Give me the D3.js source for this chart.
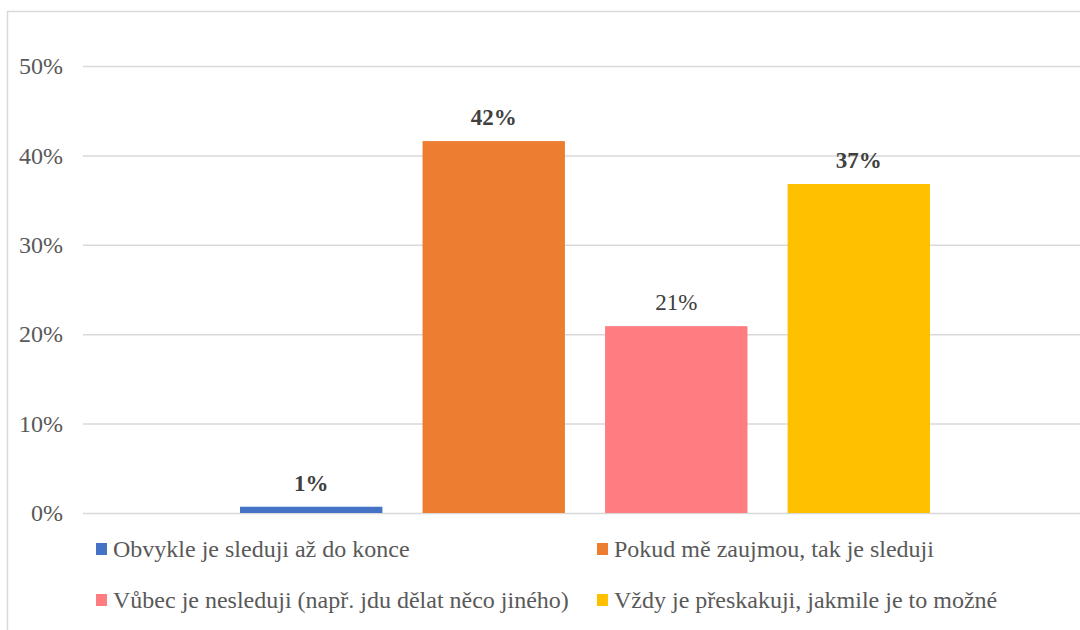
<!DOCTYPE html>
<html>
<head>
<meta charset="utf-8">
<script src="https://cdn.jsdelivr.net/npm/d3@7"></script>
<style>
  body { margin: 0; background: #fff; }
  svg { display: block; }
</style>
</head>
<body>
<svg id="chart"></svg>
<script>
const seriesNames = [
    "Obvykle je sleduji až do konce",
    "Pokud mě zaujmou, tak je sleduji",
    "Vůbec je nesleduji (např. jdu dělat něco jiného)",
    "Vždy je přeskakuji, jakmile je to možné"
];
const seriesValues = [0.7, 41.6, 20.9, 36.8];
const valueLabels = ["1%", "42%", "21%", "37%"];
const labelBold = [true, true, false, true];
const seriesColors = ["#4472C4", "#ED7D31", "#FF7C80", "#FFC000"];
const yTicks = [0, 10, 20, 30, 40, 50];

const width = 1080;
const height = 630;
const margin = { top: 66, right: -7, bottom: 117, left: 83 };
const font = "'Liberation Serif', 'Times New Roman', serif";

const svg = d3.select("#chart")
    .attr("width", width)
    .attr("height", height);

// chart area border
svg.append("rect")
    .attr("x", 7.5)
    .attr("y", 11.5)
    .attr("width", width + 20)
    .attr("height", height + 20)
    .attr("fill", "none")
    .attr("stroke", "#d9d9d9")
    .attr("stroke-width", 1.5);

const y = d3.scaleLinear()
    .domain([0, 50])
    .range([height - margin.bottom, margin.top]);

// one category, four series side by side
const x = d3.scaleBand()
    .domain(seriesNames)
    .range([240, 930])
    .paddingInner(0.22)
    .paddingOuter(0);

const yAxis = svg.append("g")
    .attr("transform", `translate(${margin.left}, 0)`)
    .call(d3.axisLeft(y)
        .tickValues(yTicks)
        .tickSize(-(width - margin.left - margin.right))
        .tickFormat(d => d + "%")
        .tickPadding(20));

yAxis.select(".domain").remove();
yAxis.selectAll("line")
    .attr("stroke", "#d9d9d9")
    .attr("stroke-width", 1.5);
yAxis.selectAll("text")
    .attr("font-family", font)
    .attr("font-size", "24px")
    .attr("fill", "#595959");

svg.append("g")
    .selectAll("rect")
    .data(seriesNames)
    .join("rect")
    .attr("x", d => x(d))
    .attr("y", (d, i) => y(seriesValues[i]))
    .attr("width", x.bandwidth())
    .attr("height", (d, i) => y(0) - y(seriesValues[i]))
    .attr("fill", (d, i) => seriesColors[i]);

svg.append("g")
    .selectAll("text")
    .data(seriesNames)
    .join("text")
    .attr("x", d => x(d) + x.bandwidth() / 2)
    .attr("y", (d, i) => y(seriesValues[i]) - 16)
    .attr("text-anchor", "middle")
    .attr("font-family", font)
    .attr("font-size", "23px")
    .attr("font-weight", (d, i) => labelBold[i] ? "bold" : "normal")
    .attr("fill", "#404040")
    .text((d, i) => valueLabels[i]);

// legend, two columns
const legendCols = [96, 597];
const legendRows = [549, 600];

const legend = svg.append("g")
    .selectAll("g")
    .data(seriesNames)
    .join("g")
    .attr("transform", (d, i) => `translate(${legendCols[i % 2]}, ${legendRows[Math.floor(i / 2)]})`);

legend.append("rect")
    .attr("x", 0)
    .attr("y", -6)
    .attr("width", 11)
    .attr("height", 12)
    .attr("fill", (d, i) => seriesColors[i]);

legend.append("text")
    .attr("x", 17)
    .attr("y", 0)
    .attr("dy", "0.35em")
    .attr("font-family", font)
    .attr("font-size", "24px")
    .attr("fill", "#595959")
    .text(d => d);
</script>
</body>
</html>
